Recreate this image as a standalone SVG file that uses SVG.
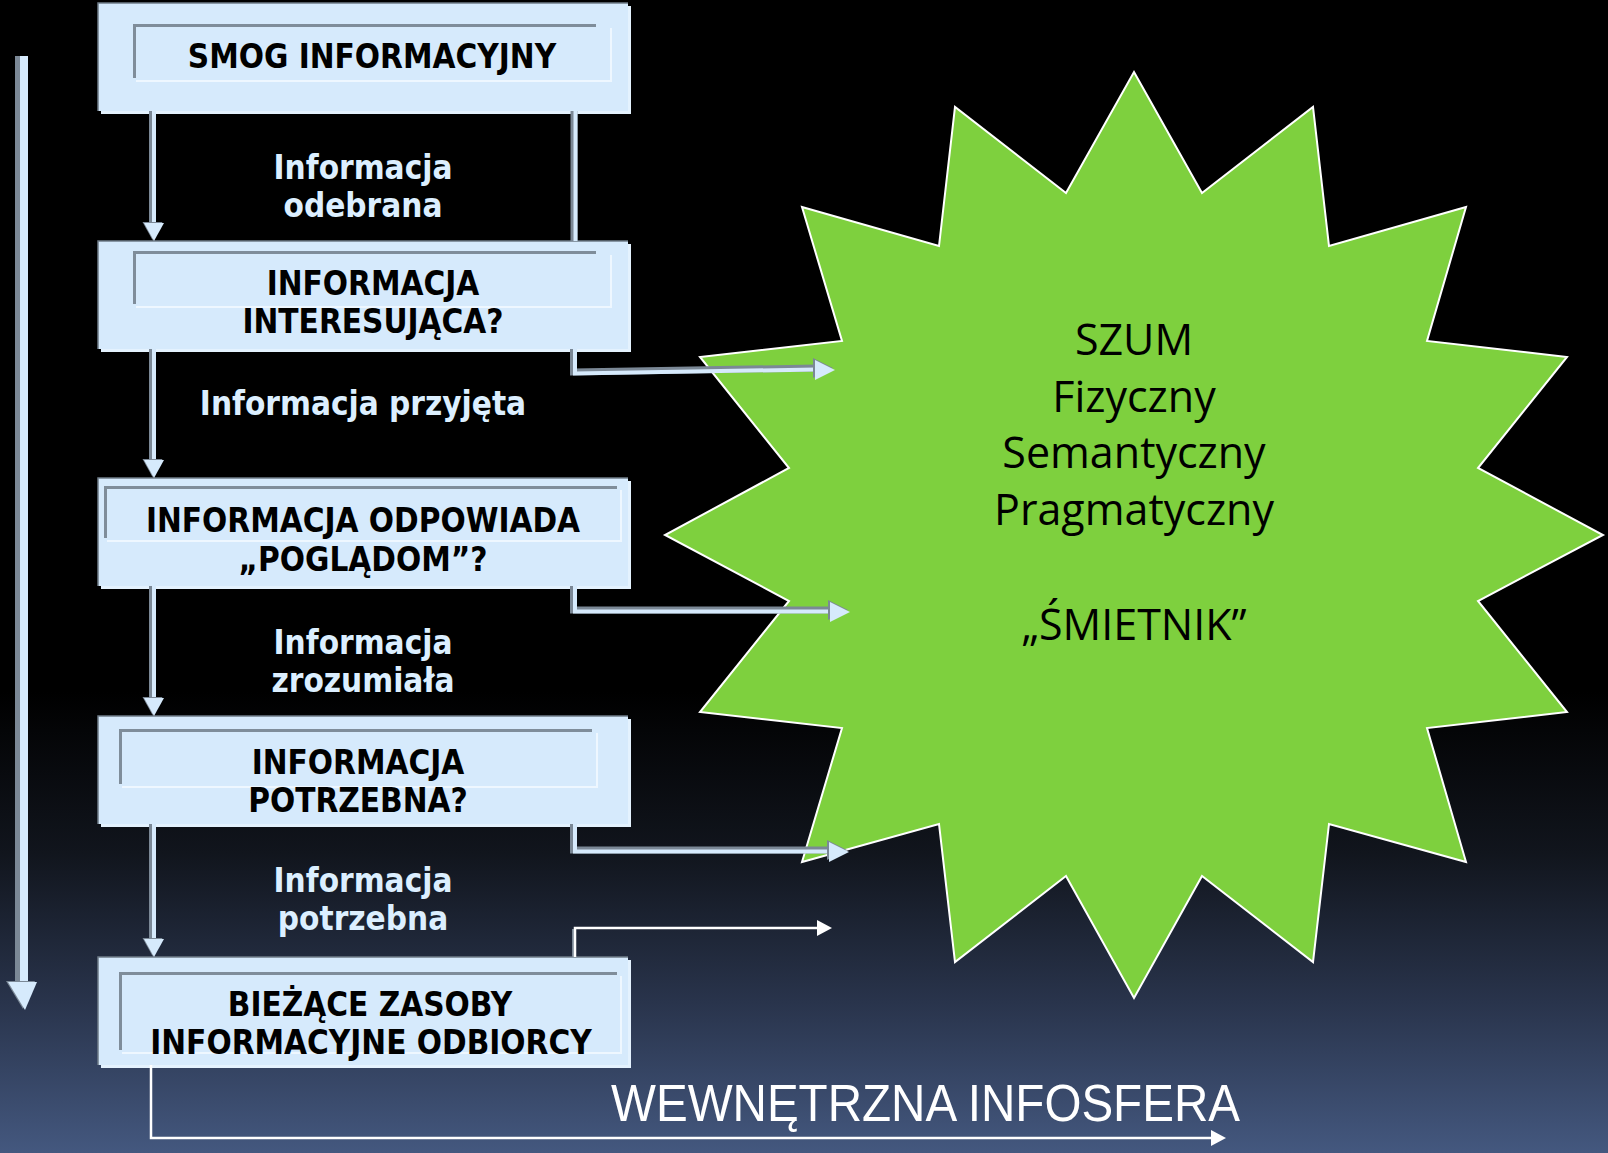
<svg xmlns="http://www.w3.org/2000/svg" width="1608" height="1153" viewBox="0 0 1608 1153">
<style>
.sh{fill:none;stroke:#7b8896;stroke-width:7}
.sl{fill:none;stroke:#d6eafc;stroke-width:4}
.shB{fill:none;stroke:#7b8896;stroke-width:12}
.slB{fill:none;stroke:#d6eafc;stroke-width:8}
.hg{fill:#7b8896}
.hl{fill:#d6eafc}
.thin{fill:none;stroke:#ffffff;stroke-width:2.5}
.thinG{fill:none;stroke:#7b8896;stroke-width:2}
.hw{fill:#ffffff}
.box{fill:#d6eafc}
.boxsh{fill:#e4f2fe}
.edge{fill:none;stroke:#6f7c88;stroke-width:1.5}
.frd{fill:none;stroke:#7f8d9a;stroke-width:3}
.frl{fill:none;stroke:#eef7ff;stroke-width:2}
.bt{font-family:"DejaVu Sans Condensed","DejaVu Sans",Verdana,sans-serif;font-stretch:condensed;font-weight:bold;font-size:33px;fill:#000;text-anchor:middle}
.lt{font-family:"DejaVu Sans Condensed","DejaVu Sans",Verdana,sans-serif;font-stretch:condensed;font-weight:bold;font-size:33px;fill:#dcefff;text-anchor:middle}
.st{font-family:"Open Sans",sans-serif;font-size:43px;fill:#000;text-anchor:middle}
.star{fill:#7ed03e;stroke:#ffffff;stroke-width:2}
.big{font-family:"Liberation Sans",Arial,sans-serif;font-size:52px;fill:#ffffff}
</style>
<defs>
<linearGradient id="bg" x1="0" y1="0" x2="0" y2="1">
<stop offset="0" stop-color="#000000"/>
<stop offset="0.6" stop-color="#000000"/>
<stop offset="0.74" stop-color="#11151d"/>
<stop offset="0.87" stop-color="#29344c"/>
<stop offset="1" stop-color="#44587f"/>
</linearGradient>
<path id="hd" d="M-10,-18 L10,-18 L0,0 Z"/>
<path id="hr" d="M-20,-10 L-20,10 L0,0 Z"/>
<path id="hrs" d="M-15,-8 L-15,8 L0,0 Z"/>
<path id="hbig" d="M-16,-28 L13,-28 L1,0 Z"/>
</defs>
<rect x="0" y="0" width="1608" height="1153" fill="url(#bg)"/>

<g id="star">
<polygon class="star" points="1134,72 1202,193 1313,107 1329,246 1466,207 1427,341 1567,357 1478,468 1603,535 1478,601 1567,712 1427,728 1466,862 1329,824 1313,962 1202,876 1134,998 1066,876 955,962 939,824 802,862 842,728 700,712 789,601 665,535 789,468 700,357 842,341 802,207 939,246 955,107 1066,193"/>
<text class="st" x="1134" y="355">SZUM</text>
<text class="st" x="1134" y="412">Fizyczny</text>
<text class="st" x="1134" y="468">Semantyczny</text>
<text class="st" x="1134" y="525">Pragmatyczny</text>
<text class="st" x="1134" y="640">„ŚMIETNIK”</text>
</g>

<g id="box1">
<rect class="boxsh" x="101" y="6" width="530" height="108"/>
<rect class="box" x="98" y="3" width="530" height="108"/>
<path class="edge" d="M98,111 V3 H628"/>
<path class="frd" d="M134.5,78 V25.5 H596"/>
<path class="frl" d="M136,81 H611 V28"/>
<text class="bt" x="372" y="68">SMOG INFORMACYJNY</text>
</g>

<g id="box2">
<rect class="boxsh" x="101" y="244" width="530" height="108"/>
<rect class="box" x="98" y="241" width="530" height="108"/>
<path class="edge" d="M98,349 V241 H628"/>
<path class="frd" d="M134.5,304 V252.5 H596"/>
<path class="frl" d="M136,307 H611 V255"/>
<text class="bt" x="373" y="295">INFORMACJA</text>
<text class="bt" x="373" y="333">INTERESUJĄCA?</text>
</g>

<g id="box3">
<rect class="boxsh" x="101" y="481" width="530" height="108"/>
<rect class="box" x="98" y="478" width="530" height="108"/>
<path class="edge" d="M98,586 V478 H628"/>
<path class="frd" d="M105.5,538 V487.5 H617"/>
<path class="frl" d="M107,541 H621 V490"/>
<text class="bt" x="363" y="532">INFORMACJA ODPOWIADA</text>
<text class="bt" x="363" y="571">„POGLĄDOM”?</text>
</g>

<g id="box4">
<rect class="boxsh" x="101" y="719" width="530" height="108"/>
<rect class="box" x="98" y="716" width="530" height="108"/>
<path class="edge" d="M98,824 V716 H628"/>
<path class="frd" d="M120.5,784 V730.5 H592"/>
<path class="frl" d="M122,787 H597 V733"/>
<text class="bt" x="358" y="774">INFORMACJA</text>
<text class="bt" x="358" y="812">POTRZEBNA?</text>
</g>

<g id="box5">
<rect class="boxsh" x="101" y="960" width="530" height="108"/>
<rect class="box" x="98" y="957" width="530" height="108"/>
<path class="edge" d="M98,1065 V957 H628"/>
<path class="frd" d="M120.5,1050 V973.5 H617"/>
<path class="frl" d="M122,1053 H621 V976"/>
<text class="bt" x="370" y="1016">BIEŻĄCE ZASOBY</text>
<text class="bt" x="371" y="1054">INFORMACYJNE ODBIORCY</text>
</g>

<g id="labels">
<text class="lt" x="363" y="179">Informacja</text>
<text class="lt" x="363" y="217">odebrana</text>
<text class="lt" x="363" y="415">Informacja przyjęta</text>
<text class="lt" x="363" y="654">Informacja</text>
<text class="lt" x="363" y="692">zrozumiała</text>
<text class="lt" x="363" y="892">Informacja</text>
<text class="lt" x="363" y="930">potrzebna</text>
<text class="big" x="611" y="1121" textLength="629" lengthAdjust="spacingAndGlyphs">WEWNĘTRZNA INFOSFERA</text>
</g>

<g id="connectors">
<path class="shB" d="M21,56 V984"/>
<path class="slB" d="M24,56 V984"/>
<use href="#hbig" class="hg" x="22" y="1009"/>
<use href="#hbig" class="hl" x="24" y="1010"/>

<path class="sh" d="M152.5,111 V226"/>
<path class="sl" d="M154,111 V226"/>
<use href="#hd" class="hg" x="152.5" y="240"/>
<use href="#hd" class="hl" x="154" y="241"/>

<path class="sh" d="M152.5,349 V463"/>
<path class="sl" d="M154,349 V463"/>
<use href="#hd" class="hg" x="152.5" y="477"/>
<use href="#hd" class="hl" x="154" y="478"/>

<path class="sh" d="M152.5,586 V701"/>
<path class="sl" d="M154,586 V701"/>
<use href="#hd" class="hg" x="152.5" y="715"/>
<use href="#hd" class="hl" x="154" y="716"/>

<path class="sh" d="M152.5,824 V942"/>
<path class="sl" d="M154,824 V942"/>
<use href="#hd" class="hg" x="152.5" y="956"/>
<use href="#hd" class="hl" x="154" y="957"/>

<path class="sh" d="M574,111 V241"/>
<path class="sl" d="M575.5,111 V241"/>

<path class="sh" d="M573.5,349 V372 L816,368"/>
<path class="sl" d="M575,349 V373.5 L816,369.5"/>
<use href="#hr" class="hg" x="833" y="368"/>
<use href="#hr" class="hl" x="835" y="370"/>

<path class="sh" d="M573.5,586 V610 H832"/>
<path class="sl" d="M575,586 V611.5 H832"/>
<use href="#hr" class="hg" x="848" y="610"/>
<use href="#hr" class="hl" x="850" y="612"/>

<path class="sh" d="M573.5,824 V850 H831"/>
<path class="sl" d="M575,824 V851.5 H831"/>
<use href="#hr" class="hg" x="847" y="850"/>
<use href="#hr" class="hl" x="849" y="852"/>

<path class="thinG" d="M573,957 V929"/>
<path class="thin" d="M575,957 V928 H818"/>
<use href="#hrs" class="hw" x="832" y="928"/>

<path class="thin" d="M151,1065 V1138 H1212"/>
<use href="#hrs" class="hw" x="1226" y="1138"/>
</g>
</svg>
